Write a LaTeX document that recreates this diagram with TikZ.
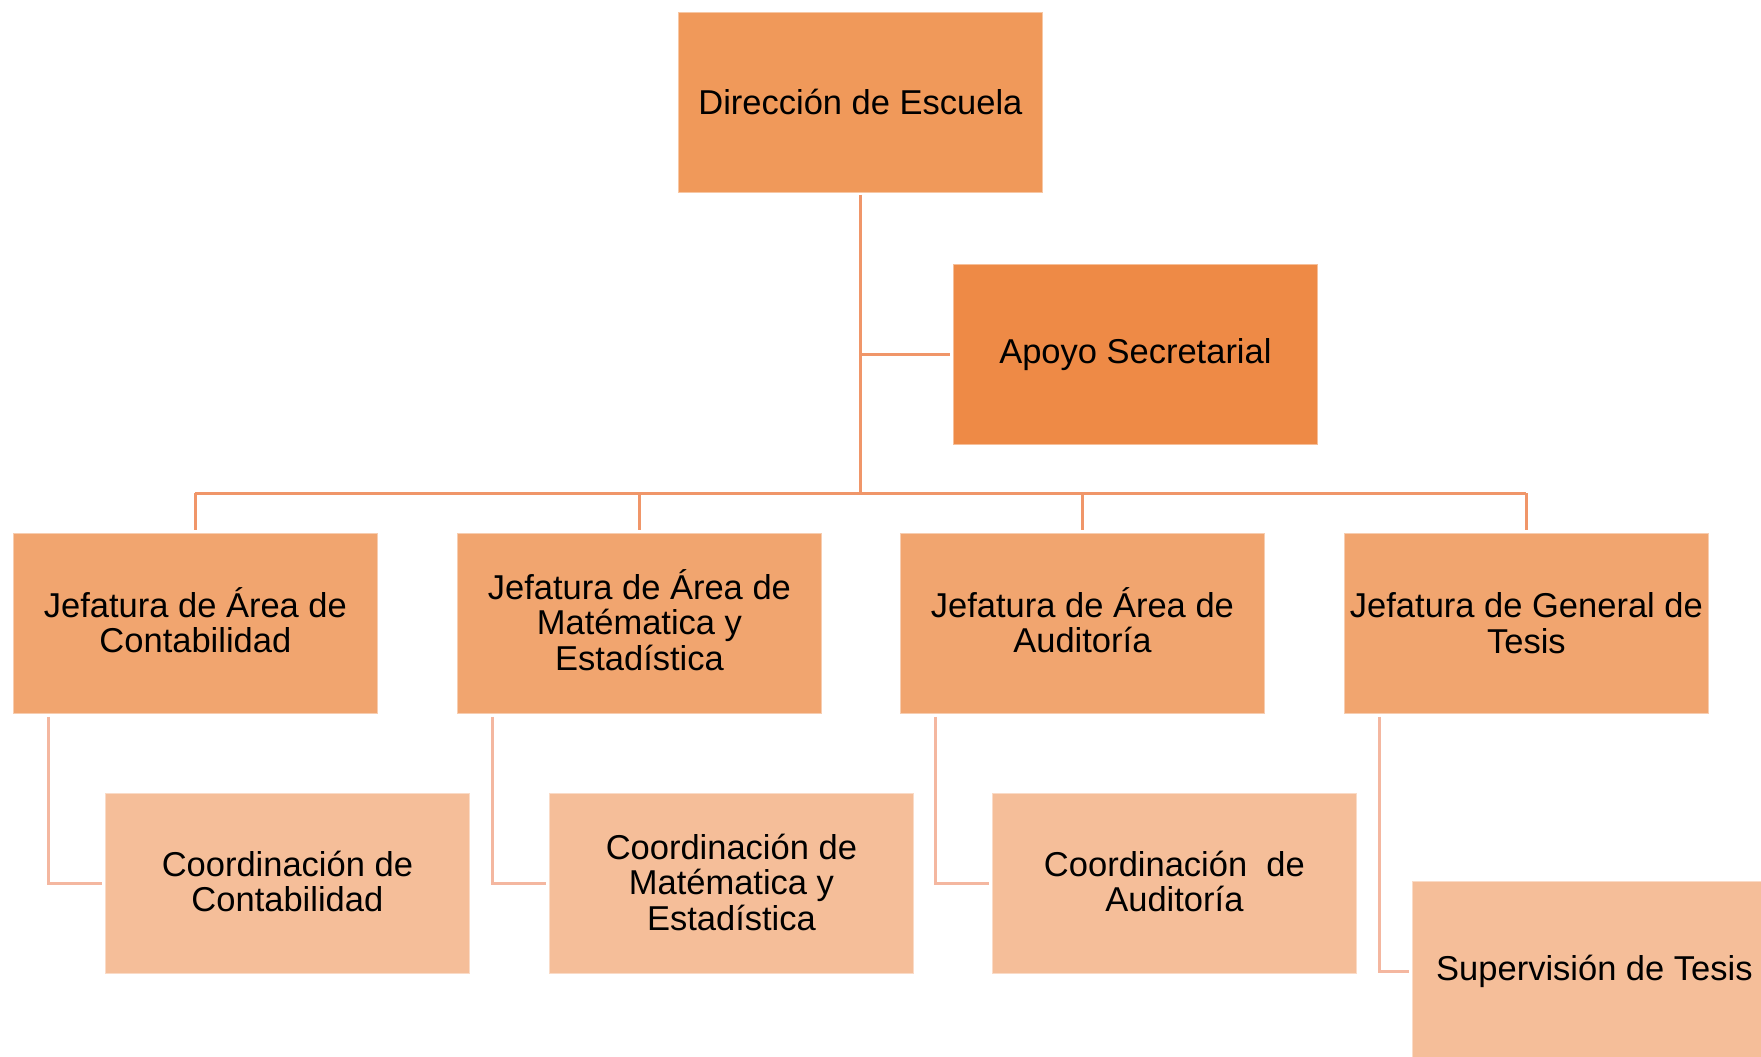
\documentclass[tikz,border=0pt]{standalone}
\usepackage{fontspec}
\setmainfont{Liberation Sans}
\definecolor{cTop}{RGB}{240,153,90}
\definecolor{cSec}{RGB}{238,138,70}
\definecolor{cMid}{RGB}{241,165,111}
\definecolor{cLow}{RGB}{245,190,153}
\definecolor{lnA}{RGB}{240,150,105}
\definecolor{lnB}{RGB}{244,183,160}
\newcommand{\dpfix}[1]{\rule[-#1]{0pt}{0pt}}
\tikzset{
  box/.style={rectangle, anchor=north west, minimum width=364pt, minimum height=180pt,
    inner sep=0pt, align=center, fill=#1, draw=#1!55!white, line width=0.8pt,
    font=\fontsize{34.5}{35.5}\selectfont},
  connA/.style={draw=lnA, line width=3pt},
  connB/.style={draw=lnB, line width=3pt},
}
\begin{document}
\begin{tikzpicture}[x=1pt,y=-1pt]
\useasboundingbox (0,0) rectangle (1761,1057);
\fill[white] (0,0) rectangle (1761,1057);
\begin{scope}
\clip (0,0) rectangle (1761,1057);
\node[box=cTop] (top) at (678,12) {Dirección de Escuela\dpfix{2pt}};
\node[box=cSec] (apoyo) at (953,264) {Apoyo Secretarial};
\node[box=cMid] (j1) at (13,533) {Jefatura de Área de\\Contabilidad\dpfix{7pt}};
\node[box=cMid] (j2) at (457,533) {Jefatura de Área de\\Matématica y\\Estadística\dpfix{7pt}};
\node[box=cMid] (j3) at (900,533) {Jefatura de Área de\\Auditoría\dpfix{7pt}};
\node[box=cMid] (j4) at (1344,533) {Jefatura de General de\\Tesis\dpfix{1pt}};
\node[box=cLow] (c1) at (105,793) {Coordinación de\\Contabilidad\dpfix{4pt}};
\node[box=cLow] (c2) at (549,793) {Coordinación de\\Matématica y\\Estadística\dpfix{3pt}};
\node[box=cLow] (c3) at (992,793) {Coordinación~~de\\Auditoría\dpfix{4pt}};
\node[box=cLow] (c4) at (1412,881) {Supervisión de Tesis};
\coordinate (bus) at (0,493);
% top connectors
\draw[connA] ([yshift=-2pt]top.south) -- (top.south |- bus);
\draw[connA] (top.south |- apoyo.west) -- ([xshift=-3pt]apoyo.west);
\draw[connA] (j1.north |- bus) -- (j4.north |- bus);
\foreach \n in {j1,j2,j3,j4}
  \draw[connA] (\n.north |- bus) -- ([yshift=3pt]\n.north);
% lower connectors
\foreach \a/\b in {j1/c1,j2/c2,j3/c3,j4/c4}
  \draw[connB] ([xshift=35pt,yshift=-3pt]\a.south west) -- ([xshift=35pt]\a.south west |- \b.west) -- ([xshift=-3pt]\b.west);
\end{scope}
\end{tikzpicture}
\end{document}
